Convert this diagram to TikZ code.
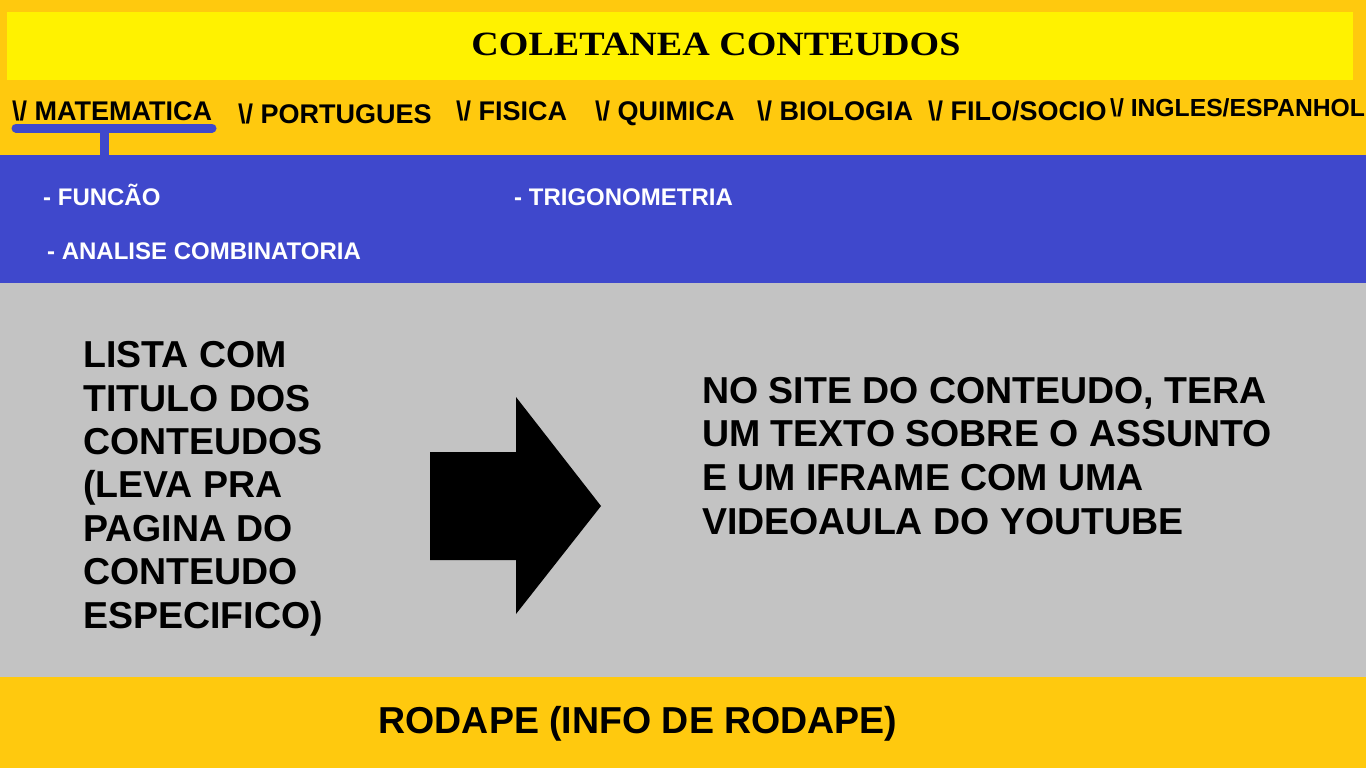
\documentclass[tikz,border=0pt]{standalone}
\usepackage{fontspec}
\setmainfont{Liberation Sans}
\newfontfamily\titlefont{Liberation Serif}
\definecolor{gold}{HTML}{FFC90E}
\definecolor{ylw}{HTML}{FFF200}
\definecolor{indigo}{HTML}{3F48CC}
\definecolor{lgray}{HTML}{C3C3C3}
\begin{document}
\begin{tikzpicture}[x=1pt,y=-1pt,
  menu/.style={anchor=base west,inner sep=0pt,font=\bfseries\fontsize{27}{32}\selectfont},
  sub/.style={anchor=base west,inner sep=0pt,text=white,font=\bfseries\fontsize{24}{28}\selectfont},
  body/.style={anchor=base west,inner sep=0pt,align=left,font=\bfseries\fontsize{37.5}{43.4}\selectfont}]
\useasboundingbox (0,0) rectangle (1366,768);
% bands
\fill[gold] (0,0) rectangle (1366,155);
\fill[ylw] (7,12) rectangle (1353,80);
\fill[indigo] (0,155) rectangle (1366,283);
\fill[lgray] (0,283) rectangle (1366,677);
\fill[gold] (0,677) rectangle (1366,768);
% title
\node[anchor=base,inner sep=0pt,font=\titlefont\bfseries\fontsize{34}{36}\selectfont] (title) at (716,56) {\scalebox{1.12}[1]{COLETANEA CONTEUDOS}};
% menu
\node[menu] (mat) at (12,120) {\textbackslash/ MATEMATICA};
\node[menu] (por) at (238,124) {\textbackslash/ PORTUGUES};
\node[menu] (fis) at (456,120) {\textbackslash/ FISICA};
\node[menu] (qui) at (595,120) {\textbackslash/ QUIMICA};
\node[menu] (bio) at (757,120) {\textbackslash/ BIOLOGIA};
\node[menu] (fil) at (928,120) {\textbackslash/ FILO/SOCIO};
\node[menu,font=\bfseries\fontsize{24.7}{29}\selectfont] (ing) at (1110,117) {\textbackslash/ INGLES/ESPANHOL};
% underline and stem
\coordinate (ul) at (16,128);
\coordinate (ur) at (212,128);
\coordinate (st) at (104.5,128);
\coordinate (sb) at (104.5,156);
\draw[indigo,line width=9pt,line cap=round] (ul) -- (ur);
\draw[indigo,line width=9pt] (st) -- (sb);
% submenu
\node[sub] (fun) at (43,205) {- FUNCÃO};
\node[sub] (tri) at (514,205) {- TRIGONOMETRIA};
\node[sub] (ana) at (47,259) {- ANALISE COMBINATORIA};
% body
\node[body] (lista) at (83,628) {LISTA COM\\TITULO DOS\\CONTEUDOS\\(LEVA PRA\\PAGINA DO\\CONTEUDO\\ESPECIFICO)};
\node[body,font=\bfseries\fontsize{37.5}{43.6}\selectfont] (site) at (702,534) {NO SITE DO CONTEUDO, TERA\\UM TEXTO SOBRE O ASSUNTO\\E UM IFRAME COM UMA\\VIDEOAULA DO YOUTUBE};
\fill[black] (430,452) -- (516,452) -- (516,397) -- (601,506) -- (516,614) -- (516,560) -- (430,560) -- cycle;
% footer
\node[body,anchor=base] (rod) at (638,733) {RODAPE (INFO DE RODAPE)};
\end{tikzpicture}
\end{document}
